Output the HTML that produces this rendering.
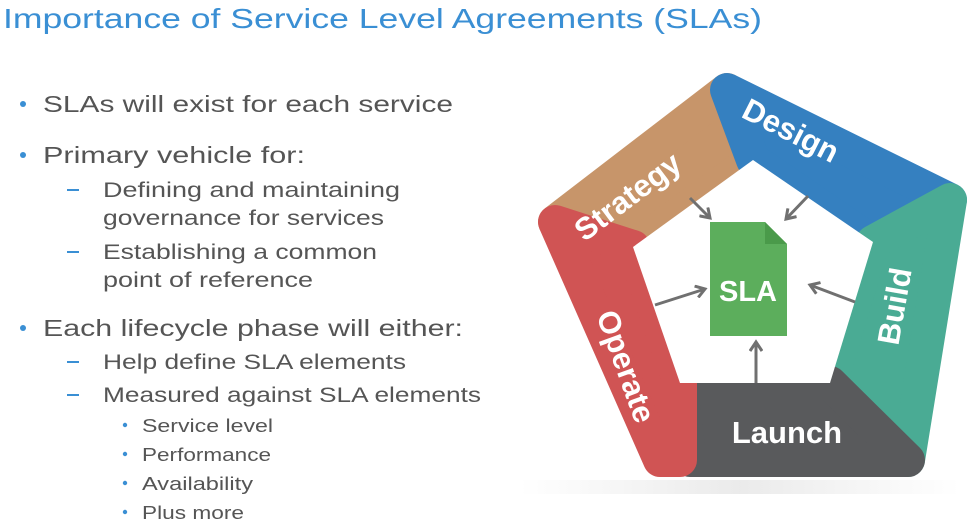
<!DOCTYPE html>
<html><head><style>body{margin:0;background:#fff}svg{display:block}</style></head><body>
<svg width="973" height="521" viewBox="0 0 973 521" xmlns="http://www.w3.org/2000/svg" font-family="Liberation Sans, DejaVu Sans, sans-serif">
<defs>
<marker id="ar" markerWidth="14" markerHeight="14" refX="11" refY="7" orient="auto" markerUnits="userSpaceOnUse" viewBox="0 0 14 14"><path d="M2,1 L11,7 L2,13" fill="none" stroke="#707070" stroke-width="3"/></marker>
<linearGradient id="sh" x1="0" x2="1"><stop offset="0" stop-color="#fff"/><stop offset=".5" stop-color="#ddd"/><stop offset="1" stop-color="#fff"/></linearGradient>
</defs>
<text x="3" y="28" font-size="28" fill="#3a8fd4" textLength="759" lengthAdjust="spacingAndGlyphs">Importance of Service Level Agreements (SLAs)</text>
<g fill="#555" font-size="23">
<text x="43" y="112" textLength="410" lengthAdjust="spacingAndGlyphs">SLAs will exist for each service</text>
<text x="43" y="163" textLength="262" lengthAdjust="spacingAndGlyphs">Primary vehicle for:</text>
<text x="103" y="197" font-size="21" textLength="297" lengthAdjust="spacingAndGlyphs">Defining and maintaining</text>
<text x="103" y="225" font-size="21" textLength="281" lengthAdjust="spacingAndGlyphs">governance for services</text>
<text x="103" y="259" font-size="21" textLength="274" lengthAdjust="spacingAndGlyphs">Establishing a common</text>
<text x="103" y="287" font-size="21" textLength="210" lengthAdjust="spacingAndGlyphs">point of reference</text>
<text x="43" y="336" textLength="420" lengthAdjust="spacingAndGlyphs">Each lifecycle phase will either:</text>
<text x="103" y="369" font-size="21" textLength="303" lengthAdjust="spacingAndGlyphs">Help define SLA elements</text>
<text x="103" y="402" font-size="21" textLength="378" lengthAdjust="spacingAndGlyphs">Measured against SLA elements</text>
<text x="142" y="432" font-size="18" textLength="131" lengthAdjust="spacingAndGlyphs">Service level</text>
<text x="142" y="461" font-size="18" textLength="129" lengthAdjust="spacingAndGlyphs">Performance</text>
<text x="142" y="490" font-size="18" textLength="111" lengthAdjust="spacingAndGlyphs">Availability</text>
<text x="142" y="519" font-size="18" textLength="102" lengthAdjust="spacingAndGlyphs">Plus more</text>
</g>
<g fill="#3a8fd4">
<circle cx="23" cy="104" r="3"/><circle cx="23" cy="155" r="3"/><circle cx="23" cy="328" r="3"/>
<rect x="67" y="189" width="12" height="2"/><rect x="67" y="251" width="12" height="2"/><rect x="67" y="361" width="12" height="2"/><rect x="67" y="394" width="12" height="2"/>
<circle cx="125" cy="425" r="2.2"/><circle cx="125" cy="454" r="2.2"/><circle cx="125" cy="483" r="2.2"/><circle cx="125" cy="512" r="2.2"/>
</g>
<rect x="520" y="480" width="440" height="14" fill="url(#sh)" opacity=".6"/>
<g stroke-linejoin="round" stroke-width="34">
<polygon points="555,222 727,90 753,160 633,247" fill="#c7956a" stroke="#c7956a"/>
<polygon points="727,90 950,200 873,242 753,160" fill="#3580c0" stroke="#3580c0"/>
<polygon points="950,200 908,460 830,383 873,242" fill="#4aab94" stroke="#4aab94"/>
<polygon points="908,460 690,460 680,383 830,383" fill="#595a5c" stroke="#595a5c"/>
<polygon points="680,460 660,460 555,222 633,247 680,383" fill="#d05454" stroke="#d05454"/>
</g>
<polygon points="633,247 753,160 873,242 830,383 680,383" fill="#fff"/>
<path d="M710,222 h55 l22,22 v92 h-77 z" fill="#5cae5c"/>
<path d="M765,222 v22 h22 z" fill="#4a9a4a"/>
<text x="748" y="301" font-size="29" font-weight="bold" fill="#fff" text-anchor="middle">SLA</text>
<g stroke="#707070" stroke-width="3" fill="none">
<line x1="690" y1="198" x2="710" y2="218" marker-end="url(#ar)"/>
<line x1="808" y1="196" x2="786" y2="219" marker-end="url(#ar)"/>
<line x1="655" y1="305" x2="705" y2="289" marker-end="url(#ar)"/>
<line x1="855" y1="302" x2="810" y2="285" marker-end="url(#ar)"/>
<line x1="756" y1="383" x2="756" y2="342" marker-end="url(#ar)"/>
</g>
<g fill="#fff" font-weight="bold" font-size="31" text-anchor="middle">
<text transform="translate(634,205) rotate(-37)">Strategy</text>
<text transform="translate(786,140) rotate(27)">Design</text>
<text transform="translate(905,308) rotate(-80)">Build</text>
<text x="787" y="443">Launch</text>
<text transform="translate(616,370) rotate(70)">Operate</text>
</g>
</svg>
</body></html>
